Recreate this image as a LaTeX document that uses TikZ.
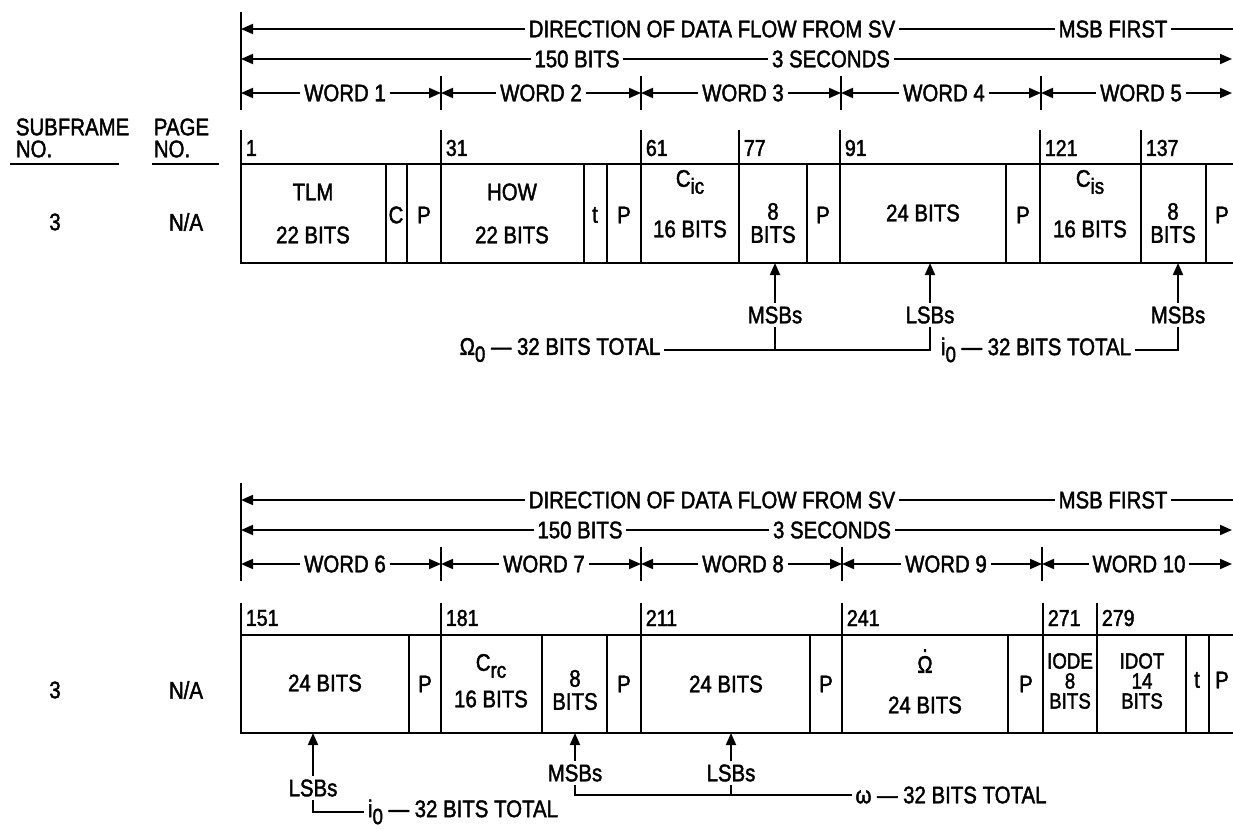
\documentclass[tikz,border=0pt]{standalone}
\usepackage{fontspec}
\setmainfont{Liberation Sans}[FakeStretch=0.85, FakeBold=1.8]
\usetikzlibrary{arrows.meta}

\newcommand{\lowsub}[1]{\raisebox{-0.55ex}{\fontsize{11}{11}\selectfont #1}}

\tikzset{
  lbl/.style={font=\fontsize{12}{12}\selectfont, inner sep=1.5pt},
  stack/.style={font=\fontsize{12}{11.5}\selectfont, align=center, inner sep=1pt},
  tightstack/.style={font=\fontsize{11}{10}\selectfont, align=center, inner sep=0pt},
  num/.style={font=\fontsize{11.5}{11.5}\selectfont, anchor=west, inner sep=1pt},
  arr/.style={-{Triangle[length=6pt,width=5pt]}},
  box/.style={line width=1.2pt},
}

\begin{document}
\begin{tikzpicture}[x=0.5pt, y=-0.5pt, line width=0.9pt]
\useasboundingbox (0,0) rectangle (1233,830);

% column headings
\node[lbl, align=left, anchor=west, font=\fontsize{12}{11}\selectfont] (subfno) at (12,138) {SUBFRAME\\NO.};
\node[lbl, align=left, anchor=west, font=\fontsize{12}{11}\selectfont] (pageno) at (150,138) {PAGE\\NO.};
\draw (10,164) -- (119,164);
\draw (152,164) -- (219,164);

% ---------------- words 1 to 5
\begin{scope}[]
\draw (241,12) -- (241,110);
\node[lbl] (dirA) at (712,29) {DIRECTION OF DATA FLOW FROM SV};
\node[lbl] (msbfA) at (1113,29) {MSB FIRST};
\draw[arr] (dirA.west) -- (241,29);
\draw (dirA.east) -- (msbfA.west);
\draw (msbfA.east) -- (1233,29);
\node[lbl] (bitsA) at (577,59) {150 BITS};
\node[lbl] (secA) at (831,59) {3 SECONDS};
\draw[arr] (bitsA.west) -- (241,59);
\draw (bitsA.east) -- (secA.west);
\draw[arr] (secA.east) -- (1232,59);

\draw (441,76) -- (441,110);
\draw (641,76) -- (641,110);
\draw (841,76) -- (841,110);
\draw (1041,76) -- (1041,110);
\node[lbl] (wA) at (345,93) {WORD 1};
\draw[arr] (wA.west) -- (241,93);
\draw[arr] (wA.east) -- (441,93);
\node[lbl] (wB) at (541,93) {WORD 2};
\draw[arr] (wB.west) -- (441,93);
\draw[arr] (wB.east) -- (641,93);
\node[lbl] (wC) at (743,93) {WORD 3};
\draw[arr] (wC.west) -- (641,93);
\draw[arr] (wC.east) -- (841,93);
\node[lbl] (wD) at (944,93) {WORD 4};
\draw[arr] (wD.west) -- (841,93);
\draw[arr] (wD.east) -- (1041,93);
\node[lbl] (wE) at (1141,93) {WORD 5};
\draw[arr] (wE.west) -- (1041,93);
\draw[arr] (wE.east) -- (1232,93);

% bit numbers
\draw (241,130) -- (241,164); \node[num] (nA) at (243,148) {1};
\draw (441,130) -- (441,164); \node[num] (nB) at (443,148) {31};
\draw (641,130) -- (641,164); \node[num] (nC) at (643,148) {61};
\draw (739,130) -- (739,164); \node[num] (nD) at (741,148) {77};
\draw (840,130) -- (840,164); \node[num] (nE) at (842,148) {91};
\draw (1040,130) -- (1040,164); \node[num] (nF) at (1042,148) {121};
\draw (1141,130) -- (1141,164); \node[num] (nG) at (1143,148) {137};

\node[lbl] (sfA) at (55,222) {3};
\node[lbl] (pgA) at (186,222) {N/A};

% subframe cells
\draw[box] (1233,164) -- (241,164) -- (241,263) -- (1233,263);
\draw[box] (386,164) -- (386,263);
\draw[box] (407,164) -- (407,263);
\draw[box] (441,164) -- (441,263);
\draw[box] (584,164) -- (584,263);
\draw[box] (607,164) -- (607,263);
\draw[box] (641,164) -- (641,263);
\draw[box] (739,164) -- (739,263);
\draw[box] (807,164) -- (807,263);
\draw[box] (840,164) -- (840,263);
\draw[box] (1006,164) -- (1006,263);
\draw[box] (1040,164) -- (1040,263);
\draw[box] (1141,164) -- (1141,263);
\draw[box] (1206,164) -- (1206,263);

\node[lbl] (tlm) at (313,192) {TLM};
\node[lbl] (tlmbits) at (313,235) {22 BITS};
\node[lbl] (cbit) at (396,215) {C};
\node[lbl] (pA) at (424,215) {P};
\node[lbl] (how) at (512,192) {HOW};
\node[lbl] (howbits) at (512,235) {22 BITS};
\node[lbl] (tA) at (595,215) {t};
\node[lbl] (pB) at (624,215) {P};
\node[lbl] (cic) at (690,182) {C\lowsub{ic}};
\node[lbl] (cicbits) at (690,229) {16 BITS};
\node[stack] (omegamsb) at (773,223) {8\\BITS};
\node[lbl] (pC) at (823,215) {P};
\node[lbl] (omegalsb) at (923,213) {24 BITS};
\node[lbl] (pD) at (1023,215) {P};
\node[lbl] (cis) at (1090,182) {C\lowsub{is}};
\node[lbl] (cisbits) at (1090,229) {16 BITS};
\node[stack] (incmsb) at (1173,223) {8\\BITS};
\node[lbl] (pE) at (1222,215) {P};

% pointers
\node[lbl] (msbA) at (775,315) {MSBs};
\node[lbl] (lsbA) at (930,315) {LSBs};
\node[lbl] (msbB) at (1178,315) {MSBs};
\draw[arr] (msbA.north) -- (775,263);
\draw[arr] (lsbA.north) -- (930,263);
\draw[arr] (msbB.north) -- (1178,263);
\node[lbl] (omA) at (560,350) {Ω\lowsub{0} — 32 BITS TOTAL};
\draw (omA.east) -| (lsbA.south);
\draw (msbA.south) -- (msbA.south |- omA.east);
\node[lbl] (ioA) at (1036,350) {i\lowsub{0} — 32 BITS TOTAL};
\draw (ioA.east) -| (msbB.south);
\end{scope}

% ---------------- words 6 to 10
\begin{scope}[shift={(0,471)}]
\draw (241,12) -- (241,110);
\node[lbl] (dirB) at (712,29) {DIRECTION OF DATA FLOW FROM SV};
\node[lbl] (msbfB) at (1113,29) {MSB FIRST};
\draw[arr] (dirB.west) -- (241,29);
\draw (dirB.east) -- (msbfB.west);
\draw (msbfB.east) -- (1233,29);
\node[lbl] (bitsB) at (580,59) {150 BITS};
\node[lbl] (secB) at (832,59) {3 SECONDS};
\draw[arr] (bitsB.west) -- (241,59);
\draw (bitsB.east) -- (secB.west);
\draw[arr] (secB.east) -- (1232,59);

\draw (441,76) -- (441,110);
\draw (641,76) -- (641,110);
\draw (842,76) -- (842,110);
\draw (1042,76) -- (1042,110);
\node[lbl] (wF) at (345,93) {WORD 6};
\draw[arr] (wF.west) -- (241,93);
\draw[arr] (wF.east) -- (441,93);
\node[lbl] (wG) at (544,93) {WORD 7};
\draw[arr] (wG.west) -- (441,93);
\draw[arr] (wG.east) -- (641,93);
\node[lbl] (wH) at (743,93) {WORD 8};
\draw[arr] (wH.west) -- (641,93);
\draw[arr] (wH.east) -- (842,93);
\node[lbl] (wI) at (946,93) {WORD 9};
\draw[arr] (wI.west) -- (842,93);
\draw[arr] (wI.east) -- (1042,93);
\node[lbl] (wJ) at (1139,93) {WORD 10};
\draw[arr] (wJ.west) -- (1042,93);
\draw[arr] (wJ.east) -- (1232,93);

% bit numbers
\draw (241,132) -- (241,164); \node[num] (nH) at (243,147) {151};
\draw (441,132) -- (441,164); \node[num] (nI) at (443,147) {181};
\draw (641,132) -- (641,164); \node[num] (nJ) at (643,147) {211};
\draw (842,132) -- (842,164); \node[num] (nK) at (844,147) {241};
\draw (1043,132) -- (1043,164); \node[num] (nL) at (1045,147) {271};
\draw (1097,132) -- (1097,164); \node[num] (nM) at (1099,147) {279};

\node[lbl] (sfB) at (55,219) {3};
\node[lbl] (pgB) at (186,219) {N/A};

% subframe cells
\draw[box] (1233,164) -- (241,164) -- (241,262) -- (1233,262);
\draw[box] (409,164) -- (409,262);
\draw[box] (441,164) -- (441,262);
\draw[box] (542,164) -- (542,262);
\draw[box] (607,164) -- (607,262);
\draw[box] (641,164) -- (641,262);
\draw[box] (810,164) -- (810,262);
\draw[box] (842,164) -- (842,262);
\draw[box] (1008,164) -- (1008,262);
\draw[box] (1043,164) -- (1043,262);
\draw[box] (1097,164) -- (1097,262);
\draw[box] (1186,164) -- (1186,262);
\draw[box] (1209,164) -- (1209,262);

\node[lbl] (inclsb) at (325,212) {24 BITS};
\node[lbl] (pF) at (425,213) {P};
\node[lbl] (crc) at (491,195) {C\lowsub{rc}};
\node[lbl] (crcbits) at (491,228) {16 BITS};
\node[stack] (argmsb) at (575,219) {8\\BITS};
\node[lbl] (pG) at (624,213) {P};
\node[lbl] (arglsb) at (726,213) {24 BITS};
\node[lbl] (pH) at (826,213) {P};
\node[align=center, font=\fontsize{12}{10.5}\selectfont, inner sep=0pt] (omdot) at (925,190) {.\\Ω};
\node[lbl] (omdotbits) at (925,234) {24 BITS};
\node[lbl] (pI) at (1026,213) {P};
\node[tightstack] (iode) at (1070,210) {IODE\\8\\BITS};
\node[tightstack] (idot) at (1142,210) {IDOT\\14\\BITS};
\node[lbl] (tB) at (1197,209) {t};
\node[lbl] (pJ) at (1222,209) {P};

% pointers
\node[lbl] (lsbC) at (313,317) {LSBs};
\node[lbl] (msbC) at (575,302) {MSBs};
\node[lbl] (lsbD) at (731,302) {LSBs};
\draw[arr] (lsbC.north) -- (313,262);
\draw[arr] (msbC.north) -- (575,262);
\draw[arr] (lsbD.north) -- (731,262);
\node[lbl] (omC) at (951,324) {ω — 32 BITS TOTAL};
\draw (msbC.south) |- (omC.west);
\draw (lsbD.south) -- (lsbD.south |- omC.west);
\node[lbl] (ioC) at (463,341) {i\lowsub{0} — 32 BITS TOTAL};
\draw (lsbC.south) |- (ioC.west);
\end{scope}
\end{tikzpicture}
\end{document}
